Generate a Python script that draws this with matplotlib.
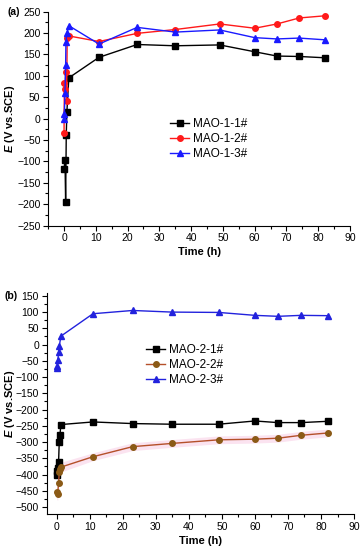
import numpy as np
import matplotlib.pyplot as plt
from matplotlib.ticker import MultipleLocator

plt.rcParams['font.family'] = ['Liberation Sans', 'DejaVu Sans']
plt.rcParams['mathtext.fontset'] = 'custom'
plt.rcParams['mathtext.it'] = 'Liberation Sans:italic:bold'

# panel (a)
t1_1 = [0, 0.3, 0.5, 0.7, 0.9, 1.5, 11, 23, 35, 49, 60, 67, 74, 82]
e1_1 = [-118, -97, -194, -38, 16, 95, 143, 173, 170, 172, 156, 146, 145, 142]
t1_2 = [0, 0.1, 0.3, 0.5, 0.8, 1.0, 1.5, 11, 23, 35, 49, 60, 67, 74, 82]
e1_2 = [-34, 82, 68, 108, 40, 188, 193, 180, 199, 208, 221, 211, 221, 235, 240]
t1_3 = [0, 0.1, 0.3, 0.5, 0.6, 0.9, 1.5, 11, 23, 35, 49, 60, 67, 74, 82]
e1_3 = [0, 10, 59, 124, 180, 199, 217, 174, 213, 202, 207, 189, 186, 188, 184]

# panel (b)
t2_1 = [0, 0.2, 0.4, 0.6, 0.8, 1.0, 1.3, 11, 23, 35, 49, 60, 67, 74, 82]
e2_1 = [-401, -390, -380, -360, -299, -279, -246, -238, -243, -245, -245, -235, -240, -240, -236]
t2_2 = [0, 0.3, 0.6, 0.8, 1.0, 1.3, 11, 23, 35, 49, 60, 67, 74, 82]
e2_2 = [-455, -460, -427, -393, -382, -377, -345, -314, -304, -293, -291, -288, -279, -272]
band2_2 = [20, 20, 20, 18, 16, 15, 12, 12, 12, 12, 12, 12, 12, 12]
t2_3 = [0, 0.2, 0.4, 0.6, 0.8, 1.3, 11, 23, 35, 49, 60, 67, 74, 82]
e2_3 = [-72, -66, -46, -23, -5, 26, 95, 105, 100, 99, 90, 87, 90, 89]

fig = plt.figure(figsize=(3.62, 5.5), dpi=100)
ax1 = fig.add_axes([0.133, 0.59, 0.834, 0.389])
ax2 = fig.add_axes([0.129, 0.065, 0.849, 0.403])

ax1.plot(t1_1, e1_1, '-s', color='black', ms=4, lw=1, label='MAO-1-1#')
ax1.plot(t1_2, e1_2, '-o', color='#ff1a1a', ms=4, lw=1, label='MAO-1-2#')
ax1.plot(t1_3, e1_3, '-^', color='#1a1aff', ms=4.5, lw=1, label='MAO-1-3#')
ax1.set_xlim(-5, 90)
ax1.set_ylim(-250, 250)
ax1.yaxis.set_major_locator(MultipleLocator(50))
ax1.yaxis.set_minor_locator(MultipleLocator(25))
ax1.legend(loc='upper left', bbox_to_anchor=(0.37, 0.55), frameon=False,
           fontsize=8.5, handlelength=1.6, handletextpad=0.3, labelspacing=0.25)
ax1.text(-0.113, 1.0, '(a)', transform=ax1.transAxes, fontsize=7.5, fontweight='bold',
         ha='center', va='center')
ax1.yaxis.set_label_coords(-0.102, 0.55)

e2_2a = np.array(e2_2)
b = np.array(band2_2)
ax2.fill_between(t2_2, e2_2a - b, e2_2a + b, color='#fbe3f0', lw=0)
ax2.plot(t2_1, e2_1, '-s', color='black', ms=4, lw=1, label='MAO-2-1#')
ax2.plot(t2_2, e2_2, '-o', color='#b5502a', mfc='#8b5a16', mec='#8b5a16', ms=4, lw=1, label='MAO-2-2#')
ax2.plot(t2_3, e2_3, '-^', color='#2222dd', ms=4.5, lw=1, label='MAO-2-3#')
ax2.set_xlim(-3, 90)
ax2.set_ylim(-522, 160)
ax2.yaxis.set_major_locator(MultipleLocator(50))
ax2.yaxis.set_minor_locator(MultipleLocator(25))
ax2.legend(loc='upper left', bbox_to_anchor=(0.29, 0.815), frameon=False,
           fontsize=8.5, handlelength=1.6, handletextpad=0.3, labelspacing=0.25)
ax2.text(-0.115, 0.985, '(b)', transform=ax2.transAxes, fontsize=7.5, fontweight='bold',
         ha='center', va='center')
ax2.yaxis.set_label_coords(-0.098, 0.51)

for ax in (ax1, ax2):
    ax.spines['top'].set_visible(False)
    ax.spines['right'].set_visible(False)
    ax.xaxis.set_major_locator(MultipleLocator(10))
    ax.xaxis.set_minor_locator(MultipleLocator(5))
    ax.tick_params(which='major', length=3.5, width=0.8, labelsize=7.5, pad=2)
    ax.tick_params(which='minor', length=2, width=0.8)
    ax.set_xlabel('Time (h)', fontsize=8, fontweight='bold', labelpad=3)
    ax.set_ylabel(r'$\mathit{E}$ (V vs.SCE)', fontsize=8, fontweight='bold')

fig.savefig('out.png', dpi=100)
